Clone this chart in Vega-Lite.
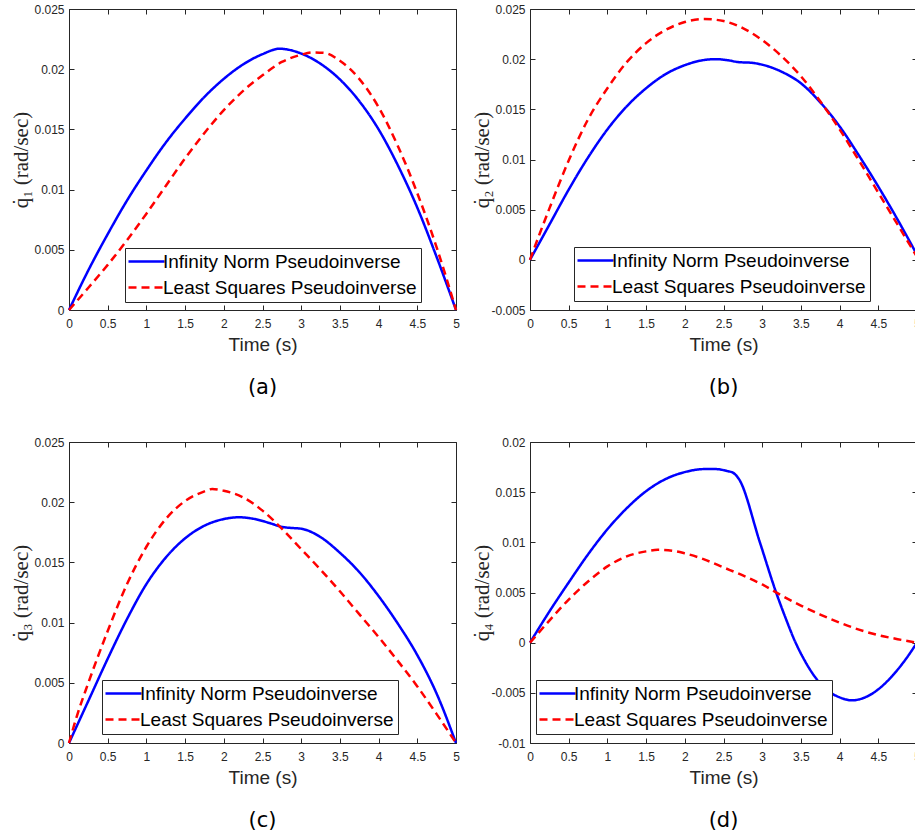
{
  "$schema": "https://vega.github.io/schema/vega-lite/v6.json",
  "padding": {"left": 10, "top": 3, "right": 0, "bottom": 0},
  "background": "white",
  "bounds": "flush",
  "columns": 2,
  "spacing": {"row": 132, "column": 74},
  "resolve": {"scale": {"color": "independent", "strokeDash": "independent"}, "legend": {"color": "independent", "strokeDash": "independent"}},
  "config": {
    "view": {"stroke": null},
    "axis": {"domainColor": "#262626", "tickColor": "#262626", "labelColor": "#262626", "labelFont": "Liberation Sans", "labelFontSize": 12, "grid": false, "tickSize": -5, "labelFlush": false, "labelOverlap": false, "labelBound": false, "titleColor": "#262626", "titleFontWeight": "normal"},
    "axisX": {"labelPadding": 13},
    "axisY": {"labelPadding": 10},
    "legend": {"orient": "none", "symbolType": "M-3,0H3", "symbolSize": 144, "symbolStrokeWidth": 2.5, "labelFont": "Liberation Sans", "labelFontSize": 19, "labelColor": "#000000", "labelLimit": 400, "padding": 4, "rowPadding": 6, "fillColor": "white", "strokeColor": "#262626", "labelOffset": 7, "symbolOffset": 8},
    "title": {"orient": "bottom", "frame": "group", "font": "DejaVu Sans", "fontSize": 21, "fontWeight": "normal", "color": "#000000", "offset": 23, "anchor": "middle"}
  },
  "datasets": {
    "a": [
      {"t": 0, "v": 0, "s": "Infinity Norm Pseudoinverse"},
      {"t": 0.25, "v": 0.0033, "s": "Infinity Norm Pseudoinverse"},
      {"t": 0.5, "v": 0.0063, "s": "Infinity Norm Pseudoinverse"},
      {"t": 0.75, "v": 0.0091, "s": "Infinity Norm Pseudoinverse"},
      {"t": 1, "v": 0.0116, "s": "Infinity Norm Pseudoinverse"},
      {"t": 1.25, "v": 0.0139, "s": "Infinity Norm Pseudoinverse"},
      {"t": 1.5, "v": 0.0159, "s": "Infinity Norm Pseudoinverse"},
      {"t": 1.75, "v": 0.0177, "s": "Infinity Norm Pseudoinverse"},
      {"t": 2, "v": 0.0192, "s": "Infinity Norm Pseudoinverse"},
      {"t": 2.25, "v": 0.0204, "s": "Infinity Norm Pseudoinverse"},
      {"t": 2.5, "v": 0.02125, "s": "Infinity Norm Pseudoinverse"},
      {"t": 2.72, "v": 0.0217, "s": "Infinity Norm Pseudoinverse"},
      {"t": 3, "v": 0.0213, "s": "Infinity Norm Pseudoinverse"},
      {"t": 3.25, "v": 0.02045, "s": "Infinity Norm Pseudoinverse"},
      {"t": 3.5, "v": 0.01915, "s": "Infinity Norm Pseudoinverse"},
      {"t": 3.75, "v": 0.01735, "s": "Infinity Norm Pseudoinverse"},
      {"t": 4, "v": 0.015, "s": "Infinity Norm Pseudoinverse"},
      {"t": 4.25, "v": 0.012, "s": "Infinity Norm Pseudoinverse"},
      {"t": 4.5, "v": 0.0085, "s": "Infinity Norm Pseudoinverse"},
      {"t": 4.75, "v": 0.0044, "s": "Infinity Norm Pseudoinverse"},
      {"t": 5, "v": 0, "s": "Infinity Norm Pseudoinverse"},
      {"t": 0, "v": 0, "s": "Least Squares Pseudoinverse"},
      {"t": 0.25, "v": 0.00185, "s": "Least Squares Pseudoinverse"},
      {"t": 0.5, "v": 0.00375, "s": "Least Squares Pseudoinverse"},
      {"t": 0.75, "v": 0.0058, "s": "Least Squares Pseudoinverse"},
      {"t": 1, "v": 0.008, "s": "Least Squares Pseudoinverse"},
      {"t": 1.25, "v": 0.0103, "s": "Least Squares Pseudoinverse"},
      {"t": 1.5, "v": 0.0126, "s": "Least Squares Pseudoinverse"},
      {"t": 1.75, "v": 0.0147, "s": "Least Squares Pseudoinverse"},
      {"t": 2, "v": 0.0166, "s": "Least Squares Pseudoinverse"},
      {"t": 2.25, "v": 0.0182, "s": "Least Squares Pseudoinverse"},
      {"t": 2.5, "v": 0.0195, "s": "Least Squares Pseudoinverse"},
      {"t": 2.75, "v": 0.0206, "s": "Least Squares Pseudoinverse"},
      {"t": 3, "v": 0.0212, "s": "Least Squares Pseudoinverse"},
      {"t": 3.15, "v": 0.0214, "s": "Least Squares Pseudoinverse"},
      {"t": 3.3, "v": 0.02135, "s": "Least Squares Pseudoinverse"},
      {"t": 3.5, "v": 0.0207, "s": "Least Squares Pseudoinverse"},
      {"t": 3.75, "v": 0.0192, "s": "Least Squares Pseudoinverse"},
      {"t": 4, "v": 0.01685, "s": "Least Squares Pseudoinverse"},
      {"t": 4.25, "v": 0.0136, "s": "Least Squares Pseudoinverse"},
      {"t": 4.5, "v": 0.0097, "s": "Least Squares Pseudoinverse"},
      {"t": 4.75, "v": 0.0052, "s": "Least Squares Pseudoinverse"},
      {"t": 5, "v": 0, "s": "Least Squares Pseudoinverse"}
    ],
    "b": [
      {"t": 0, "v": 0, "s": "Infinity Norm Pseudoinverse"},
      {"t": 0.25, "v": 0.0035, "s": "Infinity Norm Pseudoinverse"},
      {"t": 0.5, "v": 0.007, "s": "Infinity Norm Pseudoinverse"},
      {"t": 0.75, "v": 0.0102, "s": "Infinity Norm Pseudoinverse"},
      {"t": 1, "v": 0.013, "s": "Infinity Norm Pseudoinverse"},
      {"t": 1.25, "v": 0.0153, "s": "Infinity Norm Pseudoinverse"},
      {"t": 1.5, "v": 0.0171, "s": "Infinity Norm Pseudoinverse"},
      {"t": 1.75, "v": 0.0185, "s": "Infinity Norm Pseudoinverse"},
      {"t": 2, "v": 0.0194, "s": "Infinity Norm Pseudoinverse"},
      {"t": 2.2, "v": 0.01985, "s": "Infinity Norm Pseudoinverse"},
      {"t": 2.4, "v": 0.02, "s": "Infinity Norm Pseudoinverse"},
      {"t": 2.55, "v": 0.0199, "s": "Infinity Norm Pseudoinverse"},
      {"t": 2.7, "v": 0.0197, "s": "Infinity Norm Pseudoinverse"},
      {"t": 2.85, "v": 0.01965, "s": "Infinity Norm Pseudoinverse"},
      {"t": 3, "v": 0.01945, "s": "Infinity Norm Pseudoinverse"},
      {"t": 3.25, "v": 0.01875, "s": "Infinity Norm Pseudoinverse"},
      {"t": 3.5, "v": 0.0176, "s": "Infinity Norm Pseudoinverse"},
      {"t": 3.75, "v": 0.0157, "s": "Infinity Norm Pseudoinverse"},
      {"t": 4, "v": 0.0133, "s": "Infinity Norm Pseudoinverse"},
      {"t": 4.25, "v": 0.0104, "s": "Infinity Norm Pseudoinverse"},
      {"t": 4.5, "v": 0.0073, "s": "Infinity Norm Pseudoinverse"},
      {"t": 4.75, "v": 0.004, "s": "Infinity Norm Pseudoinverse"},
      {"t": 5, "v": 0.0005, "s": "Infinity Norm Pseudoinverse"},
      {"t": 0, "v": 0, "s": "Least Squares Pseudoinverse"},
      {"t": 0.13, "v": 0.0027, "s": "Least Squares Pseudoinverse"},
      {"t": 0.25, "v": 0.0051, "s": "Least Squares Pseudoinverse"},
      {"t": 0.5, "v": 0.0099, "s": "Least Squares Pseudoinverse"},
      {"t": 0.75, "v": 0.014, "s": "Least Squares Pseudoinverse"},
      {"t": 1, "v": 0.0171, "s": "Least Squares Pseudoinverse"},
      {"t": 1.25, "v": 0.0197, "s": "Least Squares Pseudoinverse"},
      {"t": 1.5, "v": 0.0216, "s": "Least Squares Pseudoinverse"},
      {"t": 1.75, "v": 0.0229, "s": "Least Squares Pseudoinverse"},
      {"t": 2, "v": 0.0237, "s": "Least Squares Pseudoinverse"},
      {"t": 2.25, "v": 0.024, "s": "Least Squares Pseudoinverse"},
      {"t": 2.5, "v": 0.0238, "s": "Least Squares Pseudoinverse"},
      {"t": 2.75, "v": 0.0231, "s": "Least Squares Pseudoinverse"},
      {"t": 3, "v": 0.0219, "s": "Least Squares Pseudoinverse"},
      {"t": 3.25, "v": 0.0203, "s": "Least Squares Pseudoinverse"},
      {"t": 3.5, "v": 0.0183, "s": "Least Squares Pseudoinverse"},
      {"t": 3.75, "v": 0.0158, "s": "Least Squares Pseudoinverse"},
      {"t": 4, "v": 0.013, "s": "Least Squares Pseudoinverse"},
      {"t": 4.25, "v": 0.0099, "s": "Least Squares Pseudoinverse"},
      {"t": 4.5, "v": 0.0067, "s": "Least Squares Pseudoinverse"},
      {"t": 4.75, "v": 0.0035, "s": "Least Squares Pseudoinverse"},
      {"t": 5, "v": 0.0003, "s": "Least Squares Pseudoinverse"}
    ],
    "c": [
      {"t": 0, "v": 0, "s": "Infinity Norm Pseudoinverse"},
      {"t": 0.25, "v": 0.0035, "s": "Infinity Norm Pseudoinverse"},
      {"t": 0.5, "v": 0.007, "s": "Infinity Norm Pseudoinverse"},
      {"t": 0.75, "v": 0.0103, "s": "Infinity Norm Pseudoinverse"},
      {"t": 1, "v": 0.0132, "s": "Infinity Norm Pseudoinverse"},
      {"t": 1.25, "v": 0.0154, "s": "Infinity Norm Pseudoinverse"},
      {"t": 1.5, "v": 0.017, "s": "Infinity Norm Pseudoinverse"},
      {"t": 1.75, "v": 0.01805, "s": "Infinity Norm Pseudoinverse"},
      {"t": 2, "v": 0.0186, "s": "Infinity Norm Pseudoinverse"},
      {"t": 2.2, "v": 0.01875, "s": "Infinity Norm Pseudoinverse"},
      {"t": 2.4, "v": 0.0186, "s": "Infinity Norm Pseudoinverse"},
      {"t": 2.6, "v": 0.01825, "s": "Infinity Norm Pseudoinverse"},
      {"t": 2.75, "v": 0.01795, "s": "Infinity Norm Pseudoinverse"},
      {"t": 2.9, "v": 0.01785, "s": "Infinity Norm Pseudoinverse"},
      {"t": 3, "v": 0.0178, "s": "Infinity Norm Pseudoinverse"},
      {"t": 3.25, "v": 0.0171, "s": "Infinity Norm Pseudoinverse"},
      {"t": 3.5, "v": 0.0158, "s": "Infinity Norm Pseudoinverse"},
      {"t": 3.75, "v": 0.0142, "s": "Infinity Norm Pseudoinverse"},
      {"t": 4, "v": 0.0122, "s": "Infinity Norm Pseudoinverse"},
      {"t": 4.25, "v": 0.0099, "s": "Infinity Norm Pseudoinverse"},
      {"t": 4.5, "v": 0.0073, "s": "Infinity Norm Pseudoinverse"},
      {"t": 4.75, "v": 0.0041, "s": "Infinity Norm Pseudoinverse"},
      {"t": 5, "v": 0, "s": "Infinity Norm Pseudoinverse"},
      {"t": 0, "v": 0, "s": "Least Squares Pseudoinverse"},
      {"t": 0.1, "v": 0.0022, "s": "Least Squares Pseudoinverse"},
      {"t": 0.25, "v": 0.005, "s": "Least Squares Pseudoinverse"},
      {"t": 0.5, "v": 0.0093, "s": "Least Squares Pseudoinverse"},
      {"t": 0.75, "v": 0.0132, "s": "Least Squares Pseudoinverse"},
      {"t": 1, "v": 0.0163, "s": "Least Squares Pseudoinverse"},
      {"t": 1.25, "v": 0.0186, "s": "Least Squares Pseudoinverse"},
      {"t": 1.5, "v": 0.0201, "s": "Least Squares Pseudoinverse"},
      {"t": 1.75, "v": 0.0209, "s": "Least Squares Pseudoinverse"},
      {"t": 1.85, "v": 0.0211, "s": "Least Squares Pseudoinverse"},
      {"t": 2, "v": 0.02095, "s": "Least Squares Pseudoinverse"},
      {"t": 2.25, "v": 0.0204, "s": "Least Squares Pseudoinverse"},
      {"t": 2.5, "v": 0.0193, "s": "Least Squares Pseudoinverse"},
      {"t": 2.75, "v": 0.0178, "s": "Least Squares Pseudoinverse"},
      {"t": 3, "v": 0.0161, "s": "Least Squares Pseudoinverse"},
      {"t": 3.25, "v": 0.0144, "s": "Least Squares Pseudoinverse"},
      {"t": 3.5, "v": 0.0126, "s": "Least Squares Pseudoinverse"},
      {"t": 3.75, "v": 0.0107, "s": "Least Squares Pseudoinverse"},
      {"t": 4, "v": 0.0088, "s": "Least Squares Pseudoinverse"},
      {"t": 4.25, "v": 0.0068, "s": "Least Squares Pseudoinverse"},
      {"t": 4.5, "v": 0.0047, "s": "Least Squares Pseudoinverse"},
      {"t": 4.75, "v": 0.0024, "s": "Least Squares Pseudoinverse"},
      {"t": 5, "v": 0, "s": "Least Squares Pseudoinverse"}
    ],
    "d": [
      {"t": 0, "v": 0, "s": "Infinity Norm Pseudoinverse"},
      {"t": 0.25, "v": 0.0031, "s": "Infinity Norm Pseudoinverse"},
      {"t": 0.5, "v": 0.006, "s": "Infinity Norm Pseudoinverse"},
      {"t": 0.75, "v": 0.0088, "s": "Infinity Norm Pseudoinverse"},
      {"t": 1, "v": 0.0113, "s": "Infinity Norm Pseudoinverse"},
      {"t": 1.25, "v": 0.0134, "s": "Infinity Norm Pseudoinverse"},
      {"t": 1.5, "v": 0.0151, "s": "Infinity Norm Pseudoinverse"},
      {"t": 1.75, "v": 0.0163, "s": "Infinity Norm Pseudoinverse"},
      {"t": 2, "v": 0.017, "s": "Infinity Norm Pseudoinverse"},
      {"t": 2.25, "v": 0.0173, "s": "Infinity Norm Pseudoinverse"},
      {"t": 2.4, "v": 0.0173, "s": "Infinity Norm Pseudoinverse"},
      {"t": 2.55, "v": 0.0171, "s": "Infinity Norm Pseudoinverse"},
      {"t": 2.62, "v": 0.01695, "s": "Infinity Norm Pseudoinverse"},
      {"t": 2.7, "v": 0.0163, "s": "Infinity Norm Pseudoinverse"},
      {"t": 2.97, "v": 0.01, "s": "Infinity Norm Pseudoinverse"},
      {"t": 3.18, "v": 0.005, "s": "Infinity Norm Pseudoinverse"},
      {"t": 3.3, "v": 0.0025, "s": "Infinity Norm Pseudoinverse"},
      {"t": 3.42, "v": 0.0002, "s": "Infinity Norm Pseudoinverse"},
      {"t": 3.55, "v": -0.0018, "s": "Infinity Norm Pseudoinverse"},
      {"t": 3.7, "v": -0.0036, "s": "Infinity Norm Pseudoinverse"},
      {"t": 3.85, "v": -0.0048, "s": "Infinity Norm Pseudoinverse"},
      {"t": 4, "v": -0.00545, "s": "Infinity Norm Pseudoinverse"},
      {"t": 4.16, "v": -0.00575, "s": "Infinity Norm Pseudoinverse"},
      {"t": 4.33, "v": -0.00545, "s": "Infinity Norm Pseudoinverse"},
      {"t": 4.5, "v": -0.00465, "s": "Infinity Norm Pseudoinverse"},
      {"t": 4.67, "v": -0.0034, "s": "Infinity Norm Pseudoinverse"},
      {"t": 4.84, "v": -0.0018, "s": "Infinity Norm Pseudoinverse"},
      {"t": 5, "v": 0, "s": "Infinity Norm Pseudoinverse"},
      {"t": 0, "v": 0, "s": "Least Squares Pseudoinverse"},
      {"t": 0.25, "v": 0.0022, "s": "Least Squares Pseudoinverse"},
      {"t": 0.5, "v": 0.0043, "s": "Least Squares Pseudoinverse"},
      {"t": 0.75, "v": 0.0061, "s": "Least Squares Pseudoinverse"},
      {"t": 1, "v": 0.0076, "s": "Least Squares Pseudoinverse"},
      {"t": 1.25, "v": 0.0086, "s": "Least Squares Pseudoinverse"},
      {"t": 1.5, "v": 0.0091, "s": "Least Squares Pseudoinverse"},
      {"t": 1.65, "v": 0.00925, "s": "Least Squares Pseudoinverse"},
      {"t": 1.85, "v": 0.00915, "s": "Least Squares Pseudoinverse"},
      {"t": 2, "v": 0.0089, "s": "Least Squares Pseudoinverse"},
      {"t": 2.25, "v": 0.0083, "s": "Least Squares Pseudoinverse"},
      {"t": 2.5, "v": 0.0075, "s": "Least Squares Pseudoinverse"},
      {"t": 2.75, "v": 0.0067, "s": "Least Squares Pseudoinverse"},
      {"t": 3, "v": 0.0058, "s": "Least Squares Pseudoinverse"},
      {"t": 3.25, "v": 0.0047, "s": "Least Squares Pseudoinverse"},
      {"t": 3.5, "v": 0.0037, "s": "Least Squares Pseudoinverse"},
      {"t": 3.75, "v": 0.0028, "s": "Least Squares Pseudoinverse"},
      {"t": 4, "v": 0.002, "s": "Least Squares Pseudoinverse"},
      {"t": 4.25, "v": 0.0013, "s": "Least Squares Pseudoinverse"},
      {"t": 4.5, "v": 0.00075, "s": "Least Squares Pseudoinverse"},
      {"t": 4.75, "v": 0.00035, "s": "Least Squares Pseudoinverse"},
      {"t": 5, "v": 0, "s": "Least Squares Pseudoinverse"}
    ]
  },
  "concat": [
    {
      "width": 387, "height": 301,
      "data": {"name": "a"},
      "title": {"text": "(a)"},
      "layer": [
        {
          "mark": {"type": "line", "strokeWidth": 2.5, "interpolate": "monotone"},
          "encoding": {
            "x": {"field": "t", "type": "quantitative", "scale": {"domain": [0, 5], "nice": false, "zero": false}, "axis": {"orient": "bottom", "values": [0, 0.5, 1, 1.5, 2, 2.5, 3, 3.5, 4, 4.5, 5], "labelExpr": "'' + datum.value", "title": "Time (s)", "titleFont": "Liberation Sans", "titleFontSize": 19, "titleX": 193.5, "titleY": 40, "titleBaseline": "alphabetic"}},
            "y": {"field": "v", "type": "quantitative", "scale": {"domain": [0, 0.025], "nice": false}, "axis": {"orient": "left", "values": [0, 0.005, 0.01, 0.015, 0.02, 0.025], "labelExpr": "'' + datum.value", "title": "q̇₁ (rad/sec)", "titleFont": "Liberation Serif", "titleFontSize": 21, "titleX": -48, "titleY": 150.5, "titleBaseline": "middle"}},
            "color": {"field": "s", "type": "nominal", "scale": {"domain": ["Infinity Norm Pseudoinverse", "Least Squares Pseudoinverse"], "range": ["#0000ff", "#ff0000"]}, "legend": {"title": null, "legendX": 56, "legendY": 239}},
            "strokeDash": {"field": "s", "type": "nominal", "scale": {"domain": ["Infinity Norm Pseudoinverse", "Least Squares Pseudoinverse"], "range": [[1, 0], [8, 5]]}, "legend": {"title": null, "legendX": 56, "legendY": 239}}
          }
        },
        {
          "mark": {"type": "point", "opacity": 0},
          "encoding": {
            "x": {"field": "t", "type": "quantitative", "axis": {"orient": "top", "values": [0, 0.5, 1, 1.5, 2, 2.5, 3, 3.5, 4, 4.5, 5], "labels": false, "title": null}},
            "y": {"field": "v", "type": "quantitative", "axis": {"orient": "right", "values": [0, 0.005, 0.01, 0.015, 0.02, 0.025], "labels": false, "title": null}}
          }
        }
      ],
      "resolve": {"axis": {"x": "independent", "y": "independent"}}
    },
    {
      "width": 387, "height": 301,
      "data": {"name": "b"},
      "title": {"text": "(b)"},
      "layer": [
        {
          "mark": {"type": "line", "strokeWidth": 2.5, "interpolate": "monotone"},
          "encoding": {
            "x": {"field": "t", "type": "quantitative", "scale": {"domain": [0, 5], "nice": false, "zero": false}, "axis": {"orient": "bottom", "values": [0, 0.5, 1, 1.5, 2, 2.5, 3, 3.5, 4, 4.5, 5], "labelExpr": "'' + datum.value", "title": "Time (s)", "titleFont": "Liberation Sans", "titleFontSize": 19, "titleX": 193.5, "titleY": 40, "titleBaseline": "alphabetic"}},
            "y": {"field": "v", "type": "quantitative", "scale": {"domain": [-0.005, 0.025], "nice": false, "zero": false}, "axis": {"orient": "left", "values": [-0.005, 0, 0.005, 0.01, 0.015, 0.02, 0.025], "labelExpr": "'' + datum.value", "title": "q̇₂ (rad/sec)", "titleFont": "Liberation Serif", "titleFontSize": 21, "titleX": -48, "titleY": 150.5, "titleBaseline": "middle"}},
            "color": {"field": "s", "type": "nominal", "scale": {"domain": ["Infinity Norm Pseudoinverse", "Least Squares Pseudoinverse"], "range": ["#0000ff", "#ff0000"]}, "legend": {"title": null, "legendX": 44, "legendY": 238}},
            "strokeDash": {"field": "s", "type": "nominal", "scale": {"domain": ["Infinity Norm Pseudoinverse", "Least Squares Pseudoinverse"], "range": [[1, 0], [8, 5]]}, "legend": {"title": null, "legendX": 44, "legendY": 238}}
          }
        },
        {
          "mark": {"type": "point", "opacity": 0},
          "encoding": {
            "x": {"field": "t", "type": "quantitative", "axis": {"orient": "top", "values": [0, 0.5, 1, 1.5, 2, 2.5, 3, 3.5, 4, 4.5, 5], "labels": false, "title": null}},
            "y": {"field": "v", "type": "quantitative", "axis": {"orient": "right", "values": [-0.005, 0, 0.005, 0.01, 0.015, 0.02, 0.025], "labels": false, "title": null}}
          }
        }
      ],
      "resolve": {"axis": {"x": "independent", "y": "independent"}}
    },
    {
      "width": 387, "height": 301,
      "data": {"name": "c"},
      "title": {"text": "(c)"},
      "layer": [
        {
          "mark": {"type": "line", "strokeWidth": 2.5, "interpolate": "monotone"},
          "encoding": {
            "x": {"field": "t", "type": "quantitative", "scale": {"domain": [0, 5], "nice": false, "zero": false}, "axis": {"orient": "bottom", "values": [0, 0.5, 1, 1.5, 2, 2.5, 3, 3.5, 4, 4.5, 5], "labelExpr": "'' + datum.value", "title": "Time (s)", "titleFont": "Liberation Sans", "titleFontSize": 19, "titleX": 193.5, "titleY": 40, "titleBaseline": "alphabetic"}},
            "y": {"field": "v", "type": "quantitative", "scale": {"domain": [0, 0.025], "nice": false}, "axis": {"orient": "left", "values": [0, 0.005, 0.01, 0.015, 0.02, 0.025], "labelExpr": "'' + datum.value", "title": "q̇₃ (rad/sec)", "titleFont": "Liberation Serif", "titleFontSize": 21, "titleX": -48, "titleY": 150.5, "titleBaseline": "middle"}},
            "color": {"field": "s", "type": "nominal", "scale": {"domain": ["Infinity Norm Pseudoinverse", "Least Squares Pseudoinverse"], "range": ["#0000ff", "#ff0000"]}, "legend": {"title": null, "legendX": 33, "legendY": 238}},
            "strokeDash": {"field": "s", "type": "nominal", "scale": {"domain": ["Infinity Norm Pseudoinverse", "Least Squares Pseudoinverse"], "range": [[1, 0], [8, 5]]}, "legend": {"title": null, "legendX": 33, "legendY": 238}}
          }
        },
        {
          "mark": {"type": "point", "opacity": 0},
          "encoding": {
            "x": {"field": "t", "type": "quantitative", "axis": {"orient": "top", "values": [0, 0.5, 1, 1.5, 2, 2.5, 3, 3.5, 4, 4.5, 5], "labels": false, "title": null}},
            "y": {"field": "v", "type": "quantitative", "axis": {"orient": "right", "values": [0, 0.005, 0.01, 0.015, 0.02, 0.025], "labels": false, "title": null}}
          }
        }
      ],
      "resolve": {"axis": {"x": "independent", "y": "independent"}}
    },
    {
      "width": 387, "height": 301,
      "data": {"name": "d"},
      "title": {"text": "(d)"},
      "layer": [
        {
          "mark": {"type": "line", "strokeWidth": 2.5, "interpolate": "monotone"},
          "encoding": {
            "x": {"field": "t", "type": "quantitative", "scale": {"domain": [0, 5], "nice": false, "zero": false}, "axis": {"orient": "bottom", "values": [0, 0.5, 1, 1.5, 2, 2.5, 3, 3.5, 4, 4.5, 5], "labelExpr": "'' + datum.value", "title": "Time (s)", "titleFont": "Liberation Sans", "titleFontSize": 19, "titleX": 193.5, "titleY": 40, "titleBaseline": "alphabetic"}},
            "y": {"field": "v", "type": "quantitative", "scale": {"domain": [-0.01, 0.02], "nice": false, "zero": false}, "axis": {"orient": "left", "values": [-0.01, -0.005, 0, 0.005, 0.01, 0.015, 0.02], "labelExpr": "'' + datum.value", "title": "q̇₄ (rad/sec)", "titleFont": "Liberation Serif", "titleFontSize": 21, "titleX": -48, "titleY": 150.5, "titleBaseline": "middle"}},
            "color": {"field": "s", "type": "nominal", "scale": {"domain": ["Infinity Norm Pseudoinverse", "Least Squares Pseudoinverse"], "range": ["#0000ff", "#ff0000"]}, "legend": {"title": null, "legendX": 6, "legendY": 238}},
            "strokeDash": {"field": "s", "type": "nominal", "scale": {"domain": ["Infinity Norm Pseudoinverse", "Least Squares Pseudoinverse"], "range": [[1, 0], [8, 5]]}, "legend": {"title": null, "legendX": 6, "legendY": 238}}
          }
        },
        {
          "mark": {"type": "point", "opacity": 0},
          "encoding": {
            "x": {"field": "t", "type": "quantitative", "axis": {"orient": "top", "values": [0, 0.5, 1, 1.5, 2, 2.5, 3, 3.5, 4, 4.5, 5], "labels": false, "title": null}},
            "y": {"field": "v", "type": "quantitative", "axis": {"orient": "right", "values": [-0.01, -0.005, 0, 0.005, 0.01, 0.015, 0.02], "labels": false, "title": null}}
          }
        }
      ],
      "resolve": {"axis": {"x": "independent", "y": "independent"}}
    }
  ]
}
